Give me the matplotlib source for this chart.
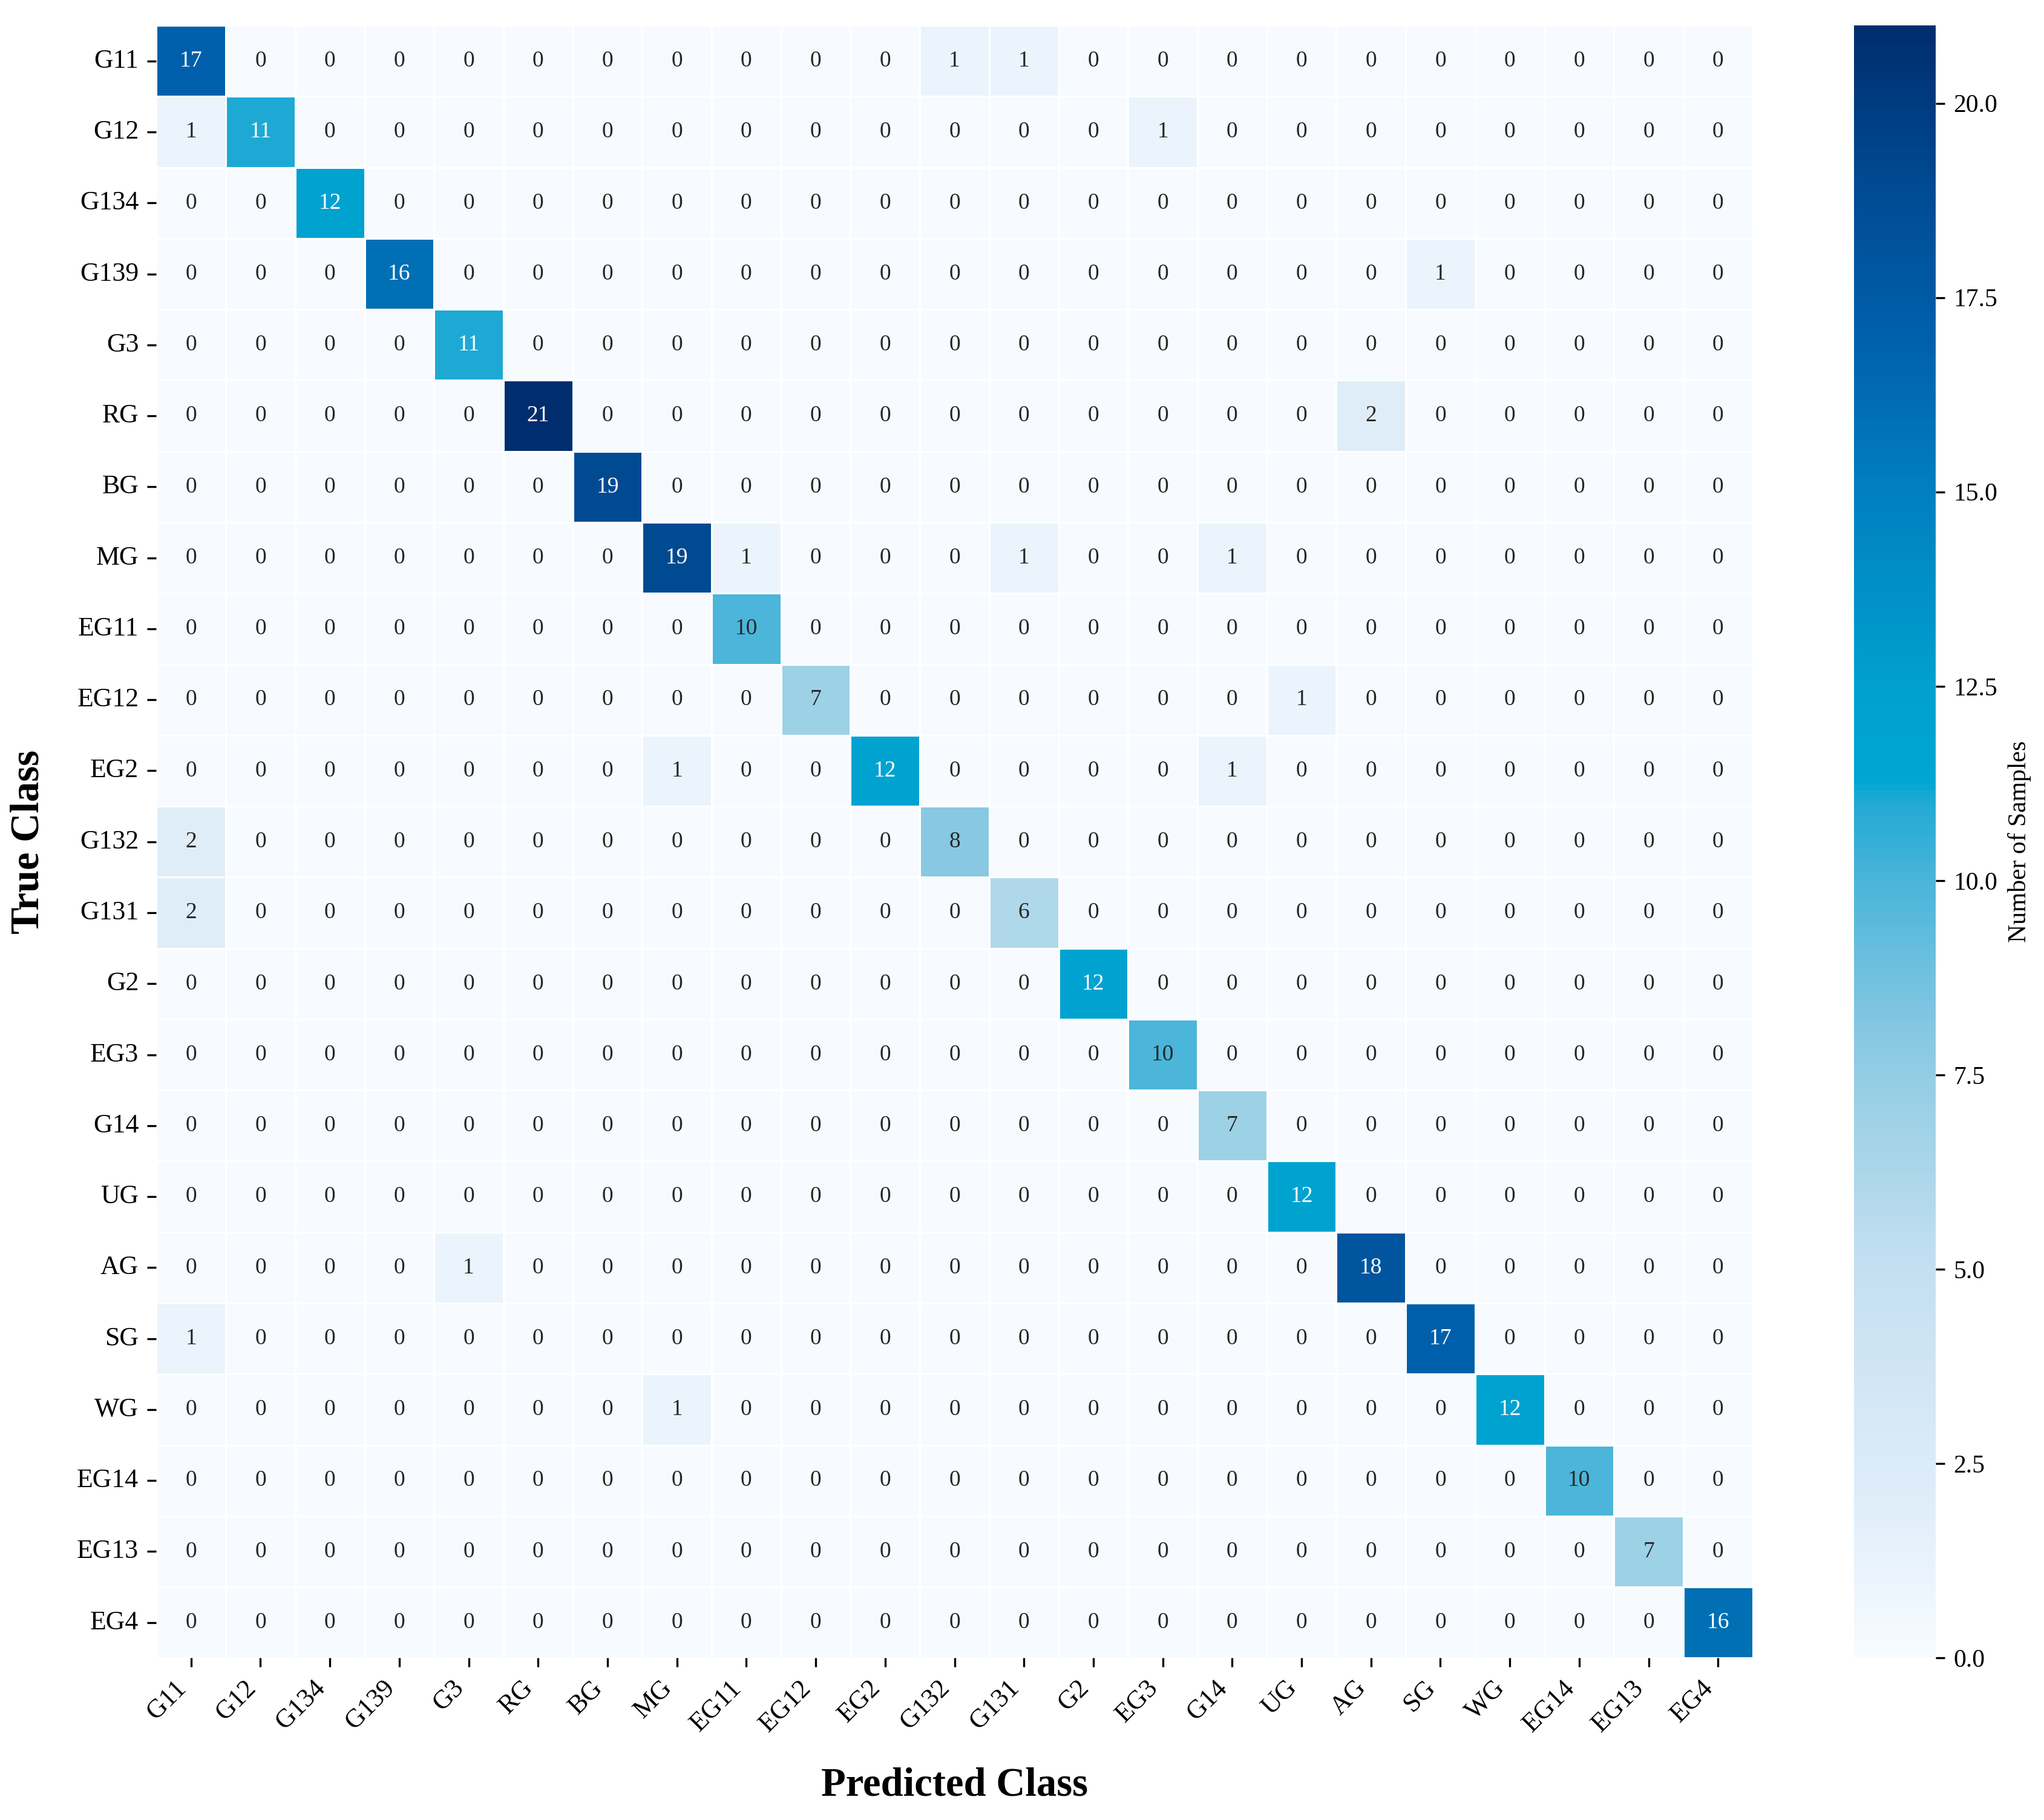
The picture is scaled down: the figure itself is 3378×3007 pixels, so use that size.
import numpy as np
import matplotlib
matplotlib.use("Agg")
import matplotlib.pyplot as plt
import seaborn as sns
from matplotlib.colors import LinearSegmentedColormap

plt.rcParams['font.family'] = 'serif'
plt.rcParams['font.serif'] = ['Liberation Serif', 'DejaVu Serif']

# class names, same order for rows (true) and columns (predicted)
classes = ["G11", "G12", "G134", "G139", "G3", "RG", "BG", "MG", "EG11", "EG12", "EG2",
           "G132", "G131", "G2", "EG3", "G14", "UG", "AG", "SG", "WG", "EG14", "EG13", "EG4"]

# correct predictions (diagonal)
diag_counts = [17, 11, 12, 16, 11, 21, 19, 19, 10, 7, 12, 8, 6, 12, 10, 7, 12, 18, 17, 12, 10, 7, 16]

# misclassifications: (true class, predicted class, count)
off_diag = [
    ("G11", "G132", 1), ("G11", "G131", 1),
    ("G12", "G11", 1), ("G12", "EG3", 1),
    ("G139", "SG", 1),
    ("RG", "AG", 2),
    ("MG", "EG11", 1), ("MG", "G131", 1), ("MG", "G14", 1),
    ("EG12", "UG", 1),
    ("EG2", "MG", 1), ("EG2", "G14", 1),
    ("G132", "G11", 2),
    ("G131", "G11", 2),
    ("AG", "G3", 1),
    ("SG", "G11", 1),
    ("WG", "MG", 1),
]

n = len(classes)
cm = np.zeros((n, n), dtype=int)
for i, v in enumerate(diag_counts):
    cm[i, i] = v
for t, p, v in off_diag:
    cm[classes.index(t), classes.index(p)] = v

vmax = cm.max()
# white -> light blue -> cyan -> navy
nodes = [(0, "#f7fbff"), (2, "#dfedf9"), (5, "#c4dff1"), (7, "#9dd1e6"), (8, "#88c8e2"),
         (10, "#4ab5da"), (11, "#22a9d5"), (11.3, "#00a6d2"), (12.5, "#00a0cf"),
         (15, "#0080bf"), (17, "#0060ab"), (19, "#004a92"), (21, "#002d6e")]
cmap = LinearSegmentedColormap.from_list("cm_blue", [(v / vmax, c) for v, c in nodes])

fig = plt.figure(figsize=(3378 / 300, 3007 / 300), dpi=300)
ax = fig.add_axes([0.0765, 0.089, 0.781, 0.897])
cax = fig.add_axes([0.907, 0.089, 0.04, 0.897])

sns.heatmap(cm, ax=ax, cbar_ax=cax, cmap=cmap, vmin=0, vmax=vmax,
            annot=True, fmt="d", annot_kws={"size": 9},
            linewidths=0.6, linecolor="white",
            xticklabels=classes, yticklabels=classes,
            cbar_kws={"label": "Number of Samples"})

# text colour: white on the darker cells
for txt in ax.texts:
    val = int(txt.get_text())
    txt.set_color("white" if val > 10.5 else "#262626")

ax.set_xlabel("Predicted Class", fontsize=16, fontweight="bold", labelpad=12)
ax.set_ylabel("True Class", fontsize=16, fontweight="bold", labelpad=12)
ax.set_xticklabels(classes, rotation=45, ha="right", fontsize=10.5)
ax.set_yticklabels(classes, rotation=0, fontsize=10.5)
ax.tick_params(axis="both", length=3.5, width=0.8)

cax.tick_params(labelsize=10)
cax.yaxis.label.set_size(10)

fig.savefig("out.png", dpi=300)
